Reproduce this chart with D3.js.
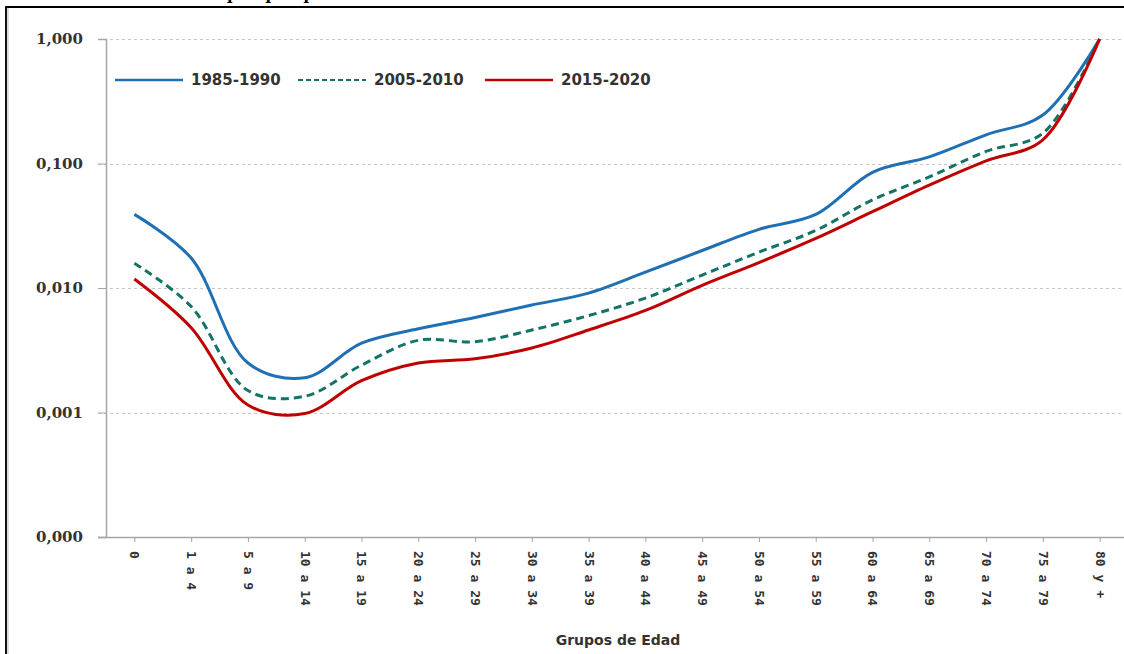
<!DOCTYPE html>
<html>
<head>
<meta charset="utf-8">
<script src="https://cdn.jsdelivr.net/npm/d3@7"></script>
<style>
  body { margin: 0; background: #fff; }
  svg { display: block; }
</style>
</head>
<body>
<svg id="chart"></svg>
<script>
// Age groups along the bottom axis
const categories = ["0", "1 a 4", "5 a 9", "10 a 14", "15 a 19", "20 a 24", "25 a 29", "30 a 34",
  "35 a 39", "40 a 44", "45 a 49", "50 a 54", "55 a 59", "60 a 64", "65 a 69", "70 a 74",
  "75 a 79", "80 y +"];

// Mortality rates per period
const serie1985 = [0.039, 0.0174, 0.0025, 0.0019, 0.0036, 0.0047, 0.0058, 0.0073, 0.0091,
  0.0134, 0.020, 0.0296, 0.039, 0.085, 0.113, 0.17, 0.245, 1.0];
const serie2005 = [0.0158, 0.0071, 0.0015, 0.00135, 0.0024, 0.0038, 0.0037, 0.0046, 0.006,
  0.0083, 0.0127, 0.0194, 0.029, 0.051, 0.078, 0.125, 0.175, 1.0];
const serie2015 = [0.0118, 0.0048, 0.00115, 0.00098, 0.0018, 0.0025, 0.0027, 0.0033, 0.0046,
  0.0066, 0.0105, 0.016, 0.025, 0.041, 0.067, 0.105, 0.155, 1.0];

const seriesNames = ["1985-1990", "2005-2010", "2015-2020"];
const yTicks = [1, 0.1, 0.01, 0.001, 0.0001];
const yTickLabels = ["1,000", "0,100", "0,010", "0,001", "0,000"];

const width = 1124;
const height = 654;

const svg = d3.select("#chart")
  .attr("width", width)
  .attr("height", height);

// plot area runs a little past the right edge, like the cropped original
const plotLeft = 106, plotRight = 1128, plotTop = 39, plotBottom = 537;

const x = d3.scalePoint()
  .domain(categories)
  .range([plotLeft, plotRight])
  .padding(0.5);

const y = d3.scaleLog()
  .domain([0.0001, 1])
  .range([plotBottom, plotTop]);

// title, cut off above the frame: only the descenders show
svg.append("text")
  .attr("x", 227)
  .attr("y", -0.5)
  .attr("font-family", "DejaVu Serif")
  .attr("font-weight", "bold")
  .attr("font-size", 15)
  .attr("fill", "#000")
  .text("por quinquenios");

// frame
svg.append("line")
  .attr("x1", 6).attr("x2", width)
  .attr("y1", 7).attr("y2", 7)
  .attr("stroke", "#000").attr("stroke-width", 2);
svg.append("line")
  .attr("x1", 6).attr("x2", 6)
  .attr("y1", 6).attr("y2", height)
  .attr("stroke", "#111").attr("stroke-width", 2);
svg.append("line")
  .attr("x1", 8).attr("x2", 8)
  .attr("y1", 8).attr("y2", height)
  .attr("stroke", "#bbb").attr("stroke-width", 1);

// gridlines (dashed) with the tick stub to the left of the axis
svg.append("g")
  .selectAll("line")
  .data(yTicks.slice(0, 4))
  .enter().append("line")
  .attr("x1", plotLeft - 8)
  .attr("x2", width)
  .attr("y1", d => Math.round(y(d)) + 0.5)
  .attr("y2", d => Math.round(y(d)) + 0.5)
  .attr("stroke", "#c8c8c8")
  .attr("stroke-dasharray", "3,3");

// y axis
const yAxis = svg.append("g")
  .attr("transform", `translate(${plotLeft},0)`)
  .call(d3.axisLeft(y)
    .tickValues(yTicks)
    .tickFormat((d, i) => yTickLabels[i])
    .tickSize(8)
    .tickPadding(15));
yAxis.select(".domain").attr("stroke", "#a6a6a6").attr("stroke-width", 1.5);
yAxis.selectAll(".tick line").attr("stroke", "#a6a6a6");
yAxis.selectAll("text")
  .attr("font-family", "DejaVu Serif")
  .attr("font-weight", "bold")
  .attr("font-size", 15)
  .attr("fill", "#333");

// x axis
const xAxis = svg.append("g")
  .attr("transform", `translate(0,${plotBottom})`)
  .call(d3.axisBottom(x).tickSize(5).tickSizeOuter(0));
xAxis.select(".domain")
  .attr("d", `M${plotLeft - 8},0.5H${width}`)
  .attr("stroke", "#a6a6a6").attr("stroke-width", 1.5);
xAxis.selectAll(".tick line").attr("stroke", "#a6a6a6");
xAxis.selectAll("text")
  .attr("font-family", "DejaVu Sans Mono")
  .attr("font-weight", "bold")
  .attr("font-size", 13)
  .attr("fill", "#333")
  .attr("text-anchor", "start")
  .attr("transform", "rotate(90)")
  .attr("x", 14)
  .attr("y", 0)
  .attr("dy", "0.35em");

// x axis title
svg.append("text")
  .attr("x", 618)
  .attr("y", 645)
  .attr("text-anchor", "middle")
  .attr("font-family", "DejaVu Sans")
  .attr("font-weight", "bold")
  .attr("font-size", 14)
  .attr("fill", "#333")
  .text("Grupos de Edad");

const series = [
  { name: seriesNames[0], values: serie1985, color: "#1f6fb4", dash: null },
  { name: seriesNames[1], values: serie2005, color: "#137366", dash: "8,5" },
  { name: seriesNames[2], values: serie2015, color: "#c00000", dash: null }
];

const line = d3.line()
  .x((d, i) => x(categories[i]))
  .y(d => y(d))
  .curve(d3.curveCatmullRom.alpha(0.5));

svg.append("g")
  .selectAll("path")
  .data(series)
  .enter().append("path")
  .attr("d", s => line(s.values))
  .attr("fill", "none")
  .attr("stroke", s => s.color)
  .attr("stroke-width", 3)
  .attr("stroke-dasharray", s => s.dash);

// legend
const legendX = [115, 298, 485];
const legend = svg.append("g")
  .selectAll("g")
  .data(series)
  .enter().append("g")
  .attr("transform", (s, i) => `translate(${legendX[i]},80)`);
legend.append("line")
  .attr("x1", 0).attr("x2", 68)
  .attr("y1", 0).attr("y2", 0)
  .attr("stroke", s => s.color)
  .attr("stroke-width", s => s.dash ? 2 : 2.5)
  .attr("stroke-dasharray", s => s.dash ? "5,3" : null);
legend.append("text")
  .attr("x", 76)
  .attr("y", 0)
  .attr("dy", "0.35em")
  .attr("font-family", "DejaVu Sans")
  .attr("font-weight", "bold")
  .attr("font-size", 15)
  .attr("fill", "#333")
  .text(s => s.name);
</script>
</body>
</html>
